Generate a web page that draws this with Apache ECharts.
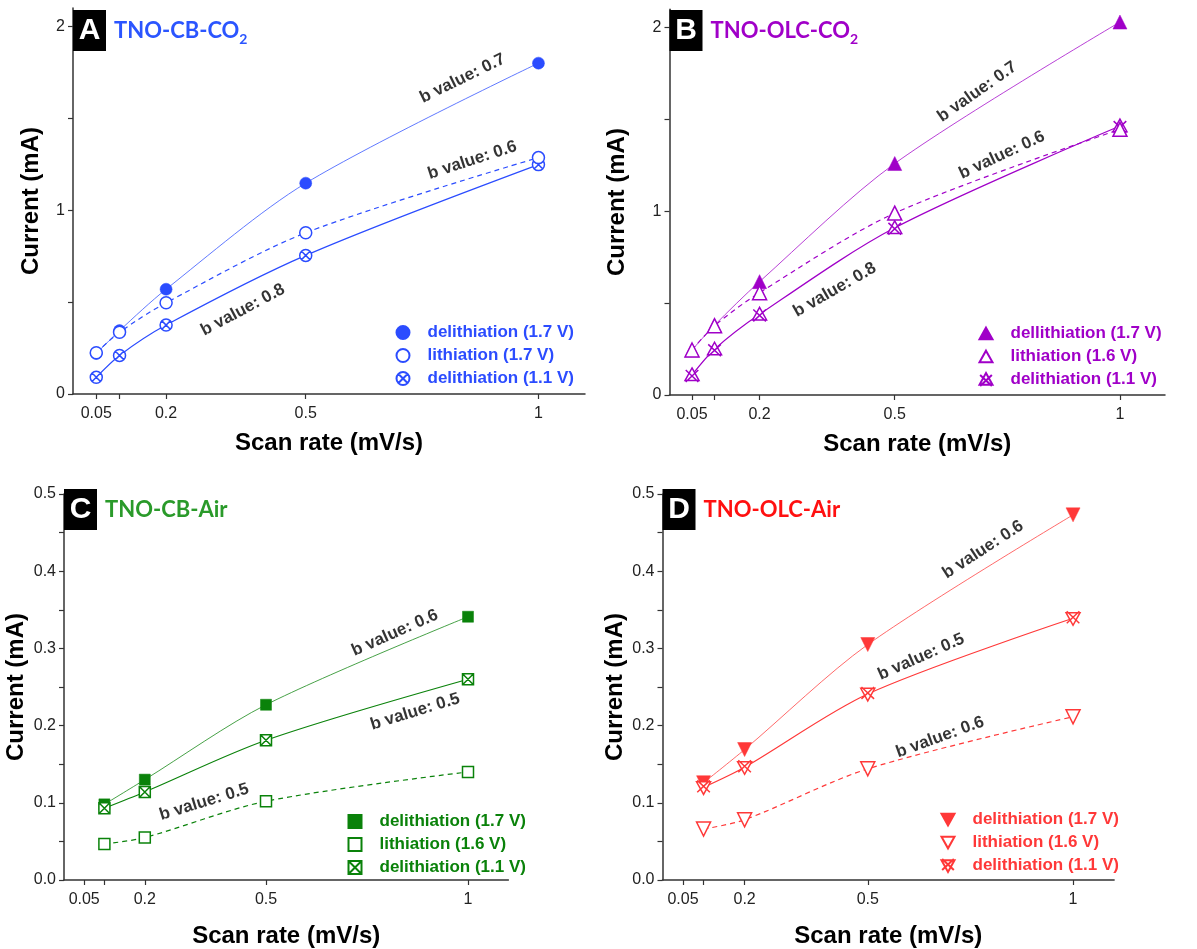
<!DOCTYPE html>
<html>
<head>
<meta charset="utf-8">
<script src="https://cdn.jsdelivr.net/npm/echarts@6/dist/echarts.min.js"></script>
<style>
  html, body { margin: 0; padding: 0; background: #fff; }
  #chart { width: 1197px; height: 949px; }
</style>
</head>
<body>
<div id="chart"></div>
<script>
// scan rates (mV/s)
const xAB = [0.05, 0.1, 0.2, 0.5, 1]
const xCD = [0.1, 0.2, 0.5, 1]

// A: TNO-CB-CO2
const aDelith17 = [0.22, 0.345, 0.57, 1.147, 1.80]
const aLith17 = [0.224, 0.336, 0.496, 0.877, 1.286]
const aDelith11 = [0.091, 0.21, 0.375, 0.754, 1.248]
// B: TNO-OLC-CO2
const bDelith17 = [0.245, 0.38, 0.617, 1.26, 2.03]
const bLith16 = [0.245, 0.377, 0.557, 0.99, 1.446]
const bDelith11 = [0.109, 0.249, 0.439, 0.91, 1.464]
// C: TNO-CB-Air
const cDelith17 = [0.098, 0.130, 0.227, 0.341]
const cLith16 = [0.0465, 0.055, 0.102, 0.140]
const cDelith11 = [0.093, 0.114, 0.181, 0.26]
// D: TNO-OLC-Air
const dDelith17 = [0.126, 0.169, 0.305, 0.473]
const dLith16 = [0.066, 0.078, 0.144, 0.2115]
const dDelith11 = [0.12, 0.146, 0.241, 0.339]

// axis ticks / labels
const xTicks = [0.05, 0.1, 0.2, 0.5, 1]
const xLabels = [0.05, 0.2, 0.5, 1]
const yTicksAB = [0, 0.5, 1, 1.5, 2]
const yLabelsAB = [0, 1, 2]
const yTicksCD = [0, 0.05, 0.1, 0.15, 0.2, 0.25, 0.3, 0.35, 0.4, 0.45, 0.5]
const yLabelsCD = [0, 0.1, 0.2, 0.3, 0.4, 0.5]

// b value annotations: [x, y, angle, text]
const notesA = [[0.837, 1.717, 26, 'b value: 0.7'], [0.858, 1.272, 18, 'b value: 0.6'], [0.365, 0.457, 28, 'b value: 0.8']]
const notesB = [[0.683, 1.65, 35, 'b value: 0.7'], [0.738, 1.306, 25, 'b value: 0.6'], [0.367, 0.572, 30, 'b value: 0.8']]
const notesC = [[0.819, 0.320, 24, 'b value: 0.6'], [0.869, 0.218, 17, 'b value: 0.5'], [0.347, 0.101, 17, 'b value: 0.5']]
const notesD = [[0.781, 0.428, 33, 'b value: 0.6'], [0.63, 0.289, 24, 'b value: 0.5'], [0.676, 0.185, 20, 'b value: 0.6']]

const FONT = 'Arial, "Liberation Sans", sans-serif'
const circleX = 'path://M0,-10A10,10 0 1,1 0,10A10,10 0 1,1 0,-10Z M-7,-7L7,7M-7,7L7,-7'
const square = 'path://M-10,-10L10,-10L10,10L-10,10Z'
const squareX = 'path://M-10,-10L10,-10L10,10L-10,10Z M-10,-10L10,10M-10,10L10,-10'
const triUp = 'path://M0,-10L10,8L-10,8Z'
const triUpX = 'path://M0,-10L10,8L-10,8Z M-9,-7L9,10M9,-7L-9,10'
const triDown = 'path://M-10,-8L10,-8L0,10Z'
const triDownX = 'path://M-10,-8L10,-8L0,10Z M-9,-10L9,7M9,-10L-9,7'

const panels = [
  { key: 'A', title: 'TNO-CB-CO', sub: '2', color: '#2b4cff', titleColor: '#2b55ff',
    grid: { left: 73, top: 8, width: 512, height: 386 }, x: xAB, ymax: 2.1,
    yTicks: yTicksAB, yLabels: yLabelsAB, yFmt: v => String(v), yGap: 30, xGap: 37,
    legendPos: { left: 395.5, top: 324 }, notes: notesA, boxTop: 10,
    series: [
      { name: 'delithiation (1.7 V)', data: aDelith17, symbol: 'circle', size: 12, fill: true, line: 'solid', lw: 1, op: 0.75 },
      { name: 'delithiation (1.1 V)', data: aDelith11, symbol: circleX, size: 12, fill: false, line: 'solid', lw: 1.2, op: 1 },
      { name: 'lithiation (1.7 V)', data: aLith17, symbol: 'circle', size: 12, fill: false, line: 'dashed', lw: 1.2, op: 1 }
    ], legendOrder: [0, 2, 1] },
  { key: 'B', title: 'TNO-OLC-CO', sub: '2', color: '#a000c8', titleColor: '#a000c8',
    grid: { left: 669.5, top: 9.2, width: 495.5, height: 385.8 }, x: xAB, ymax: 2.1,
    yTicks: yTicksAB, yLabels: yLabelsAB, yFmt: v => String(v), yGap: 40, xGap: 37,
    legendPos: { left: 978.5, top: 325 }, notes: notesB, boxTop: 10,
    series: [
      { name: 'dellithiation (1.7 V)', data: bDelith17, symbol: triUp, size: 14, fill: true, line: 'solid', lw: 1, op: 0.75 },
      { name: 'delithiation (1.1 V)', data: bDelith11, symbol: triUpX, size: 14, fill: false, line: 'solid', lw: 1.2, op: 1 },
      { name: 'lithiation (1.6 V)', data: bLith16, symbol: triUp, size: 14, fill: false, line: 'dashed', lw: 1.2, op: 1 }
    ], legendOrder: [0, 2, 1] },
  { key: 'C', title: 'TNO-CB-Air', sub: '', color: '#0a820a', titleColor: '#2a9a2a',
    grid: { left: 64, top: 494, width: 444.4, height: 387 }, x: xCD, ymax: 0.5,
    yTicks: yTicksCD, yLabels: yLabelsCD, yFmt: v => v.toFixed(1), yGap: 36, xGap: 44,
    legendPos: { left: 347.5, top: 813 }, notes: notesC, boxTop: 489,
    series: [
      { name: 'delithiation (1.7 V)', data: cDelith17, symbol: square, size: 11, fill: true, line: 'solid', lw: 1, op: 0.75 },
      { name: 'delithiation (1.1 V)', data: cDelith11, symbol: squareX, size: 11, fill: false, line: 'solid', lw: 1.2, op: 1 },
      { name: 'lithiation (1.6 V)', data: cLith16, symbol: square, size: 11, fill: false, line: 'dashed', lw: 1.2, op: 1 }
    ], legendOrder: [0, 2, 1] },
  { key: 'D', title: 'TNO-OLC-Air', sub: '', color: '#ff3838', titleColor: '#ff1010',
    grid: { left: 662.5, top: 494, width: 451.6, height: 387 }, x: xCD, ymax: 0.5,
    yTicks: yTicksCD, yLabels: yLabelsCD, yFmt: v => v.toFixed(1), yGap: 35, xGap: 44,
    legendPos: { left: 940.5, top: 811 }, notes: notesD, boxTop: 489,
    series: [
      { name: 'delithiation (1.7 V)', data: dDelith17, symbol: triDown, size: 14, fill: true, line: 'solid', lw: 1, op: 0.75 },
      { name: 'delithiation (1.1 V)', data: dDelith11, symbol: triDownX, size: 14, fill: false, line: 'solid', lw: 1.2, op: 1 },
      { name: 'lithiation (1.6 V)', data: dLith16, symbol: triDown, size: 14, fill: false, line: 'dashed', lw: 1.2, op: 1 }
    ], legendOrder: [0, 2, 1] }
]

const option = { animation: false, grid: [], xAxis: [], yAxis: [], series: [], legend: [], title: [] }

panels.forEach((p, i) => {
  option.grid.push(p.grid)
  option.xAxis.push({
    type: 'value', gridIndex: i, min: 0, max: 1.1,
    name: 'Scan rate (mV/s)', nameLocation: 'middle', nameGap: p.xGap,
    nameTextStyle: { fontFamily: FONT, fontSize: 24, fontWeight: 'bold', color: '#000' },
    splitLine: { show: false },
    axisLine: { lineStyle: { color: '#333', width: 1.5 } },
    axisTick: { customValues: xTicks, length: 5, lineStyle: { color: '#333', width: 1.2 } },
    axisLabel: { customValues: xLabels, fontFamily: FONT, fontSize: 16, color: '#222', margin: 12, formatter: v => String(v) }
  })
  option.yAxis.push({
    type: 'value', gridIndex: i, min: 0, max: p.ymax,
    name: 'Current (mA)', nameLocation: 'middle', nameGap: p.yGap,
    nameTextStyle: { fontFamily: FONT, fontSize: 24, fontWeight: 'bold', color: '#000' },
    splitLine: { show: false },
    axisLine: { show: true, lineStyle: { color: '#333', width: 1.5 } },
    axisTick: { show: true, customValues: p.yTicks, length: 5, lineStyle: { color: '#333', width: 1.2 } },
    axisLabel: { customValues: p.yLabels, fontFamily: FONT, fontSize: 16, color: '#222', margin: 8, formatter: p.yFmt }
  })

  // fitted curves drawn through the measured points
  p.series.forEach((s, j) => {
    option.series.push({
      type: 'line', name: p.key + '-line' + j, xAxisIndex: i, yAxisIndex: i,
      data: p.x.map((x, k) => [x, s.data[k]]),
      smooth: 0.3, showSymbol: false, silent: true, z: 2,
      lineStyle: { color: p.color, width: s.lw, type: s.line === 'dashed' ? [5, 4] : 'solid', opacity: s.op }
    })
  })
  // markers
  p.series.forEach((s, j) => {
    option.series.push({
      type: 'scatter', name: p.key + '|' + s.name, xAxisIndex: i, yAxisIndex: i,
      data: p.x.map((x, k) => [x, s.data[k]]),
      symbol: s.symbol, symbolSize: s.size, z: 3 + j,
      itemStyle: s.fill
        ? { color: p.color, borderColor: p.color, borderWidth: 0.5, opacity: 1 }
        : { color: '#fff', borderColor: p.color, borderWidth: 1.5, opacity: 1 }
    })
  })
  // b value notes
  option.series.push({
    type: 'scatter', name: p.key + '-notes', xAxisIndex: i, yAxisIndex: i, silent: true, z: 6,
    symbolSize: 1, itemStyle: { color: 'rgba(0,0,0,0)' },
    data: p.notes.map(n => ({
      value: [n[0], n[1]],
      label: { show: true, position: 'inside', rotate: n[2], formatter: n[3],
        fontFamily: FONT, fontSize: 17, fontWeight: 'bold', color: '#000', textBorderWidth: 0 }
    }))
  })

  option.legend.push({
    orient: 'vertical', left: p.legendPos.left, top: p.legendPos.top, padding: 0,
    itemWidth: 13, itemHeight: 13, itemGap: 6, selectedMode: false,
    data: p.legendOrder.map(j => ({ name: p.key + '|' + p.series[j].name, icon: p.series[j].symbol })),
    formatter: name => name.split('|')[1],
    textStyle: { fontFamily: FONT, fontSize: 17, fontWeight: 'bold', color: p.color, padding: [0, 0, 0, 13] }
  })

  option.title.push({
    left: p.grid.left, top: p.boxTop, padding: 0,
    text: '{box|' + p.key + '}{t|' + p.title + '}' + (p.sub ? '{s|' + p.sub + '}' : ''),
    textStyle: {
      rich: {
        box: { width: 33, height: 41, lineHeight: 41, align: 'center', backgroundColor: '#000',
          color: '#fff', fontSize: 30, fontWeight: 'bold', fontFamily: FONT },
        t: { color: p.titleColor, fontSize: 22, fontWeight: 'bold', fontFamily: 'Lato, sans-serif', padding: [0, 0, 0, 8] },
        s: { color: p.titleColor, fontSize: 14, fontWeight: 'bold', fontFamily: 'Lato, sans-serif', padding: [18, 0, 0, 0] }
      }
    }
  })
})

const chart = echarts.init(document.getElementById('chart'))
chart.setOption(option)
window.addEventListener('resize', () => { chart.resize() })
</script>
</body>
</html>
